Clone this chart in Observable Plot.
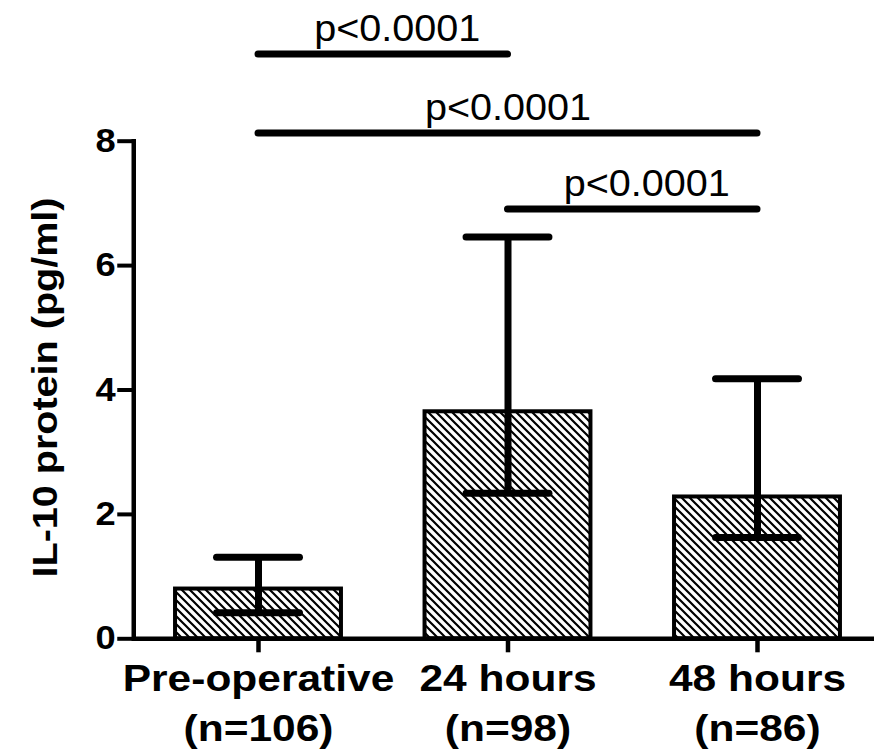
<!DOCTYPE html>
<html><head><meta charset="utf-8">
<script src="https://cdn.jsdelivr.net/npm/d3@7"></script>
<script src="https://cdn.jsdelivr.net/npm/@observablehq/plot@0.6"></script>
<style>html,body{margin:0;padding:0;background:#fff} svg{display:block}</style>
</head><body>
<script>
// ---- data ----
const categories = ["Pre-operative", "24 hours", "48 hours"];
const sampleSizes = ["(n=106)", "(n=98)", "(n=86)"];
const means = [0.80, 3.65, 2.28];
const upper = [1.31, 6.46, 4.18];
const lower = [0.42, 2.34, 1.63];
const yTicks = [0, 2, 4, 6, 8];
const compFrom = ["Pre-operative", "Pre-operative", "24 hours"];
const compTo = ["24 hours", "48 hours", "48 hours"];
const compY = [9.40, 8.13, 6.91];
const compLabel = ["p<0.0001", "p<0.0001", "p<0.0001"];
const yLabel = "IL-10 protein (pg/ml)";

const bars = categories.map((c, i) => ({group: c, mean: means[i], hi: upper[i], lo: lower[i]}));
const comps = compFrom.map((f, i) => ({from: f, to: compTo[i], y: compY[i], label: compLabel[i]}));

// ---- layout ----
const W = 874, H = 753;
const mL = 133.25, mT = 140.7, mB = H - 638.3;
const step = 249.5, pad = 0.335;
const bw = step * (1 - pad);
const labelShift = [14, 0, 14];
const font = "Arial, 'Liberation Sans', sans-serif";

const hatchDefs = () => {
  const ns = "http://www.w3.org/2000/svg";
  const defs = document.createElementNS(ns, "defs");
  const p = document.createElementNS(ns, "pattern");
  p.setAttribute("id", "hatch");
  p.setAttribute("patternUnits", "userSpaceOnUse");
  p.setAttribute("width", 8);
  p.setAttribute("height", 8);
  const r = document.createElementNS(ns, "rect");
  r.setAttribute("width", 8); r.setAttribute("height", 8); r.setAttribute("fill", "white");
  const path = document.createElementNS(ns, "path");
  path.setAttribute("d", "M-2,-2L10,10M-2,6L2,10M6,-2L10,2");
  path.setAttribute("stroke", "black");
  path.setAttribute("stroke-width", 2.2);
  p.append(r, path);
  defs.append(p);
  return defs;
};

const chart = Plot.plot({
  width: W, height: H,
  marginLeft: mL, marginRight: 0, marginTop: mT, marginBottom: mB,
  style: {fontFamily: font, color: "black", background: "white", overflow: "visible"},
  x: {domain: categories, range: [mL, mL + step * 3], paddingInner: pad, paddingOuter: pad / 2, align: 0.5, round: false},
  y: {domain: [0, 8]},
  marks: [
    hatchDefs,
    Plot.barY(bars, {x: "group", y: "mean", fill: "url(#hatch)", stroke: "black", strokeWidth: 4}),
    Plot.ruleX(bars, {x: "group", y1: "lo", y2: "hi", stroke: "black", strokeWidth: 7}),
    Plot.tickY(bars, {x: "group", y: "hi", stroke: "black", strokeWidth: 7, insetLeft: 41.5, insetRight: 41.5, strokeLinecap: "round"}),
    Plot.tickY(bars, {x: "group", y: "lo", stroke: "black", strokeWidth: 7, insetLeft: 41.5, insetRight: 41.5, strokeLinecap: "round"}),
    Plot.ruleY([0], {stroke: "black", strokeWidth: 4.5}),
    Plot.frame({anchor: "left", stroke: "black", strokeWidth: 4.5}),
    Plot.axisY({ticks: yTicks, tickSize: 16, tickPadding: 2, stroke: "black", strokeWidth: 4, fontSize: 33, fontWeight: "bold", label: null}),
    Plot.axisX({tickSize: 14, tickPadding: 2.5, stroke: "black", strokeWidth: 4.5, fontSize: 36, fontWeight: "bold", lineHeight: 1.4,
      tickFormat: d => d + "\n" + sampleSizes[categories.indexOf(d)], label: null}),
    Plot.ruleY(comps, {x1: "from", x2: "to", y: "y", insetLeft: bw / 2, insetRight: bw / 2, stroke: "black", strokeWidth: 7, strokeLinecap: "round"}),
    ...comps.map((c, i) => Plot.text([c], {
      x: "from", y: "y", text: "label", lineAnchor: "bottom", fontSize: 36, fill: "black",
      dx: (categories.indexOf(c.to) - categories.indexOf(c.from)) * step / 2 + labelShift[i], dy: -13
    })),
    Plot.text([yLabel], {text: d => d, frameAnchor: "left", textAnchor: "middle", rotate: -90, dx: 56 - mL, dy: -2.5, lineAnchor: "bottom",
      fontSize: 35, fontWeight: "bold", fill: "black"})
  ]
});
document.body.append(chart);

// horizontal stretch of text to match the reference glyph widths
function stretch(el, factor, fixed) {
  const len = el.getComputedTextLength();
  el.setAttribute("textLength", fixed != null ? fixed : len * factor);
  el.setAttribute("lengthAdjust", "spacingAndGlyphs");
}
chart.querySelectorAll("text").forEach(t => {
  const g = t.closest("g[aria-label]");
  const kind = g ? g.getAttribute("aria-label") : "";
  const tspans = t.querySelectorAll("tspan");
  const targets = tspans.length ? Array.from(tspans) : [t];
  const content = t.textContent;
  targets.forEach(el => {
    if (kind.includes("x-axis")) stretch(el, 1.18);
    else if (kind.includes("y-axis")) stretch(el, 1.1);
    else if (content.startsWith("p<")) stretch(el, 1.1);
    else if (content.startsWith("IL-10")) stretch(el, 1, 380);
  });
});
</script>
</body></html>
